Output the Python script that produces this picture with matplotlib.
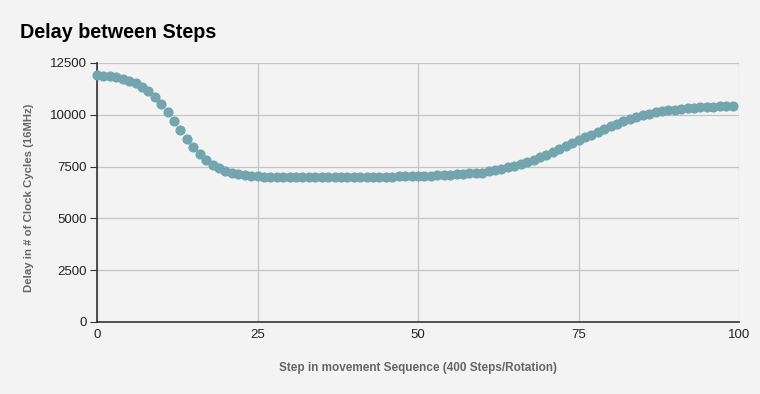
import matplotlib.pyplot as plt

# Step index and delay (clock cycles)
steps = list(range(100))
delay = [11906, 11887, 11858, 11810, 11743, 11646, 11520, 11357, 11149, 10876,
         10521, 10121, 9700, 9252, 8817, 8431, 8094, 7804, 7577, 7417,
         7288, 7207, 7143, 7095, 7062, 7032, 7012, 6998, 6996, 6995,
         6992, 6990, 6990, 6990, 6990, 6990, 6990, 6992, 6994, 6996,
         6998, 7000, 7003, 7006, 7010, 7014, 7019, 7024, 7030, 7037,
         7045, 7054, 7064, 7076, 7090, 7106, 7124, 7145, 7168, 7193,
         7215, 7265, 7320, 7390, 7460, 7535, 7625, 7720, 7830, 7940,
         8060, 8200, 8345, 8485, 8625, 8770, 8910, 9045, 9180, 9315,
         9445, 9565, 9680, 9785, 9885, 9970, 10045, 10115, 10175, 10220,
         10255, 10285, 10310, 10335, 10355, 10375, 10390, 10405, 10415, 10425]

x_ticks = [0, 25, 50, 75, 100]
y_ticks = [0, 2500, 5000, 7500, 10000, 12500]

bg = '#f3f3f3'
plt.rcParams['font.family'] = ['Liberation Sans', 'DejaVu Sans']

fig = plt.figure(figsize=(7.6, 3.94), dpi=100, facecolor=bg)
ax = fig.add_axes([97 / 760, 1 - 322 / 394, 642 / 760, 259 / 394], facecolor=bg)

ax.plot(steps, delay, linestyle='none', marker='o', markersize=6.3,
        color='#73a5ae', zorder=3, clip_on=False)

ax.set_xlim(0, 100)
ax.set_ylim(0, 12500)
ax.set_xticks(x_ticks)
ax.set_yticks(y_ticks)
ax.grid(True, color='#c4c4c4', linewidth=0.9)
ax.set_axisbelow(True)

for side in ['top', 'right']:
    ax.spines[side].set_visible(False)
for side in ['left', 'bottom']:
    ax.spines[side].set_color('#333333')
    ax.spines[side].set_linewidth(1.2)

ax.tick_params(axis='y', length=5, color='#333333', labelsize=9.5, labelcolor='#222222', pad=2)
ax.tick_params(axis='x', length=0, labelsize=9.5, labelcolor='#222222', pad=5)

ax.set_xlabel('Step in movement Sequence (400 Steps/Rotation)', fontsize=8.5,
              fontweight='bold', color='#666666', labelpad=15)
ax.set_ylabel('Delay in # of Clock Cycles (16MHz)', fontsize=8.2,
              fontweight='bold', color='#666666', labelpad=9)
ax.yaxis.set_label_coords(-0.098, 0.48)

fig.text(20 / 760, 1 - 32 / 394, 'Delay between Steps', fontsize=14.2,
         fontweight='bold', color='#000000', va='center', ha='left')

plt.savefig('out.png', dpi=100, facecolor=bg)
plt.close()
